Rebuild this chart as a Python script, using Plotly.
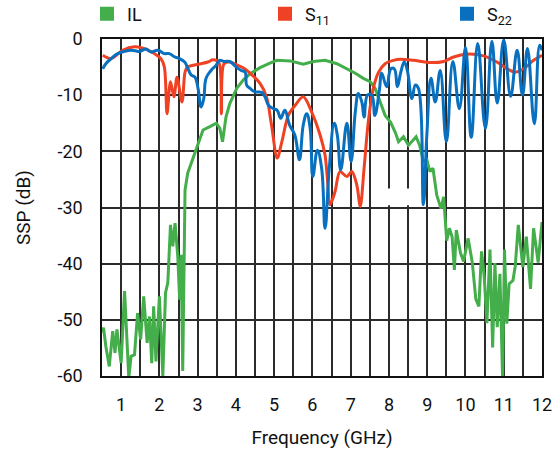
import plotly.graph_objects as go

# ---------------- data ----------------
il_freq = [0.50, 0.54, 0.60, 0.69, 0.78, 0.84, 0.89, 1.00, 1.09, 1.20, 1.26, 1.35, 1.43, 1.51,
           1.59, 1.68, 1.74, 1.80, 1.85, 1.91, 2.00, 2.09, 2.16, 2.22, 2.29, 2.35, 2.41, 2.48,
           2.53, 2.57, 2.61, 2.67, 2.74, 2.83, 2.95, 3.14, 3.32, 3.49, 3.58, 3.65, 3.74, 3.84,
           4.02, 4.19, 4.37, 4.63, 4.89, 5.07, 5.42, 5.76, 6.02, 6.33, 6.64, 6.90, 7.12, 7.33,
           7.51, 7.64, 7.77, 7.90, 8.04, 8.17, 8.25, 8.38, 8.51, 8.71, 8.80, 8.90, 8.99, 9.07,
           9.15, 9.25, 9.36, 9.43, 9.51, 9.58, 9.65, 9.71, 9.76, 9.87, 9.95, 10.07, 10.18, 10.27,
           10.35, 10.42, 10.49, 10.56, 10.64, 10.71, 10.77, 10.83, 10.90, 10.97, 11.02, 11.08,
           11.14, 11.24, 11.30, 11.38, 11.50, 11.59, 11.70, 11.78, 11.90, 12.00]
il_db = [-52.2, -51.4, -54.7, -58.3, -52.0, -55.9, -51.7, -57.7, -44.9, -60.3, -56.5, -56.2, -48.8, -53.5,
         -45.8, -54.1, -49.4, -57.7, -47.6, -57.4, -45.8, -60.0, -45.2, -43.4, -33.1, -36.9, -32.8, -38.7,
         -46.4, -38.4, -59.1, -26.9, -23.9, -22.1, -19.8, -16.2, -15.6, -15.0, -15.9, -18.3, -13.9, -11.5,
         -8.8, -7.3, -6.2, -5.1, -4.3, -3.8, -3.9, -4.5, -4.0, -3.8, -4.4, -5.3, -6.1, -7.0,
         -7.6, -8.8, -11.2, -13.6, -14.8, -16.7, -18.3, -17.4, -18.9, -17.4, -18.9, -21.8, -21.5, -23.6,
         -23.0, -27.8, -30.2, -28.1, -35.9, -33.7, -35.2, -41.1, -34.0, -38.1, -39.6, -35.5, -39.9, -46.3,
         -47.6, -37.8, -42.3, -50.6, -37.5, -54.9, -39.9, -51.3, -41.8, -60.4, -37.5, -50.7,
         -43.6, -43.0, -40.5, -33.1, -40.6, -35.2, -44.5, -33.7, -39.8, -32.6]

s11_freq = [0.52, 0.74, 1.04, 1.35, 1.61, 1.87, 2.04, 2.13, 2.20, 2.29, 2.38, 2.46, 2.59, 2.67,
            2.73, 3.01, 3.27, 3.40, 3.55, 3.62, 3.69, 3.84, 4.05, 4.23, 4.37, 4.63, 4.80, 4.93,
            5.08, 5.20, 5.37, 5.55, 5.76, 5.98, 6.20, 6.33, 6.39, 6.46, 6.59, 6.72, 6.90, 7.03,
            7.16, 7.25, 7.35, 7.46, 7.59, 7.73, 7.90, 8.12, 8.29, 8.64, 9.08, 9.43, 9.69, 10.04,
            10.47, 10.82, 11.09, 11.30, 11.52, 11.78, 12.00]
s11_db = [-2.9, -3.5, -2.0, -1.4, -1.7, -2.6, -3.5, -5.0, -13.3, -7.6, -10.3, -6.8, -11.2, -5.9,
          -5.0, -4.5, -4.1, -3.7, -4.1, -13.3, -4.4, -4.1, -4.7, -5.3, -6.1, -7.9, -10.3, -15.3,
          -21.2, -18.3, -13.6, -11.8, -10.3, -13.0, -17.1, -20.7, -24.8, -29.5, -27.2, -23.6, -24.5, -23.6,
          -26.0, -29.8, -23.0, -14.7, -8.8, -5.9, -4.4, -3.8, -3.6, -3.8, -4.2, -4.0, -3.2, -2.7,
          -3.0, -4.1, -5.3, -5.9, -5.3, -3.8, -2.9]

s22_freq = [0.52, 0.60, 0.74, 0.91, 1.09, 1.26, 1.48, 1.65, 1.78, 1.96, 2.13, 2.26, 2.40, 2.53,
            2.66, 2.73, 2.83, 2.93, 3.01, 3.09, 3.16, 3.22, 3.35, 3.48, 3.57, 3.70, 3.84, 4.01,
            4.14, 4.24, 4.28, 4.37, 4.50, 4.67, 4.76, 4.85, 4.98, 5.08, 5.17, 5.28, 5.40, 5.54,
            5.66, 5.76, 5.85, 5.94, 6.01, 6.13, 6.24, 6.33, 6.44, 6.57, 6.65, 6.74, 6.90, 7.01,
            7.12, 7.20, 7.29, 7.35, 7.44, 7.55, 7.63, 7.75, 7.81, 7.94, 8.05, 8.14, 8.22, 8.31,
            8.40, 8.48, 8.60, 8.69, 8.77, 8.90, 8.99, 9.10, 9.21, 9.34, 9.50, 9.67, 9.84, 10.00,
            10.15, 10.32, 10.52, 10.69, 10.83, 11.00, 11.18, 11.35, 11.49, 11.62, 11.80, 11.94, 12.00]
s22_db = [-5.3, -4.4, -3.5, -2.6, -2.2, -2.0, -2.2, -1.8, -2.3, -2.0, -2.6, -2.6, -3.2, -3.5,
          -4.1, -5.0, -6.4, -6.8, -8.8, -12.1, -10.6, -7.0, -5.6, -4.7, -3.8, -4.0, -4.0, -5.0,
          -5.6, -5.9, -8.2, -8.8, -9.4, -9.5, -10.3, -11.8, -12.4, -12.7, -14.1, -12.7, -15.3, -17.1,
          -21.5, -15.3, -13.3, -15.9, -24.5, -19.8, -23.0, -33.7, -23.0, -15.0, -17.1, -23.3, -15.0, -21.8,
          -13.0, -9.7, -11.2, -13.9, -10.0, -10.0, -13.6, -9.1, -6.1, -8.5, -5.3, -5.3, -8.5, -5.9,
          -4.1, -5.6, -10.6, -8.2, -8.8, -29.5, -17.1, -7.0, -11.2, -5.6, -18.3, -4.0, -12.4, -1.5,
          -17.5, -0.8, -15.9, -0.4, -11.4, -0.2, -10.2, -2.0, -10.0, -1.7, -15.1, -1.1, -2.0]

x_ticks = [1, 2, 3, 4, 5, 6, 7, 8, 9, 10, 11, 12]
y_ticks = [0, -10, -20, -30, -40, -50, -60]

GREEN = "#43AE4A"
RED = "#EF4123"
BLUE = "#0870BF"
FONT = "Roboto"

W, H = 557, 456
ML, MR, MT, MB = 102, 15, 39, 80
PW, PH = W - ML - MR, H - MT - MB

fig = go.Figure()
fig.add_trace(go.Scatter(x=il_freq, y=il_db, mode="lines", line=dict(color=GREEN, width=3),
                         showlegend=False, hoverinfo="skip"))
fig.add_trace(go.Scatter(x=s11_freq, y=s11_db, mode="lines",
                         line=dict(color=RED, width=3, shape="spline", smoothing=0.9),
                         showlegend=False, hoverinfo="skip"))
fig.add_trace(go.Scatter(x=s22_freq, y=s22_db, mode="lines",
                         line=dict(color=BLUE, width=3, shape="spline", smoothing=1.2),
                         showlegend=False, hoverinfo="skip"))

# legend entries (square swatches)
for name, col, lg in [("IL", GREEN, "legend"), ("S<sub>11</sub>", RED, "legend2"),
                      ("S<sub>22</sub>", BLUE, "legend3")]:
    fig.add_trace(go.Scatter(x=[None], y=[None], mode="markers", name=name, legend=lg,
                             marker=dict(symbol="square", size=14, color=col)))

def px_x(px):
    return (px - ML) / PW

def px_y(py):
    return 1 + (MT - py) / PH

legend_common = dict(orientation="h", yanchor="middle", xanchor="left",
                     xref="paper", yref="paper", bgcolor="rgba(0,0,0,0)",
                     font=dict(family=FONT, size=18, color="#111"))
fig.update_layout(
    legend=dict(legend_common, x=px_x(87), y=px_y(14)),
    legend2=dict(legend_common, x=px_x(265), y=px_y(14)),
    legend3=dict(legend_common, x=px_x(447), y=px_y(14)),
)

grid_col = "#2b2b2b"
fig.update_xaxes(range=[0.5, 12], tickvals=x_ticks, ticktext=[str(v) for v in x_ticks],
                 showgrid=True, gridcolor=grid_col, gridwidth=1.5,
                 minor=dict(dtick=0.5, tick0=0.5, showgrid=True, gridcolor=grid_col, gridwidth=1.5),
                 showline=True, linecolor="#111", linewidth=1.5, mirror=True,
                 ticks="", ticklabelstandoff=12, zeroline=False,
                 tickfont=dict(family=FONT, size=18, color="#111"),
                 title=dict(text="Frequency (GHz)", font=dict(family=FONT, size=19, color="#111"),
                            standoff=16))
fig.update_yaxes(range=[-60, 0], tickvals=y_ticks, ticktext=[str(v) for v in y_ticks],
                 showgrid=True, gridcolor=grid_col, gridwidth=1.5,
                 showline=True, linecolor="#111", linewidth=1.5, mirror=True,
                 ticks="", ticklabelstandoff=14, zeroline=False,
                 tickfont=dict(family=FONT, size=18, color="#111"),
                 title=dict(text="SSP (dB)", font=dict(family=FONT, size=19, color="#111"),
                            standoff=22))

# small white patch present in the original artwork
fig.add_shape(type="rect", xref="x", yref="y", x0=7.75, x1=8.6, y0=-26.6, y1=-29.6,
              fillcolor="white", line=dict(width=0), layer="above")

fig.update_layout(width=W, height=H,
                  margin=dict(l=ML, r=MR, t=MT, b=MB, autoexpand=False),
                  paper_bgcolor="white", plot_bgcolor="white",
                  font=dict(family=FONT, size=18, color="#111"))

fig.write_html("out.html")
